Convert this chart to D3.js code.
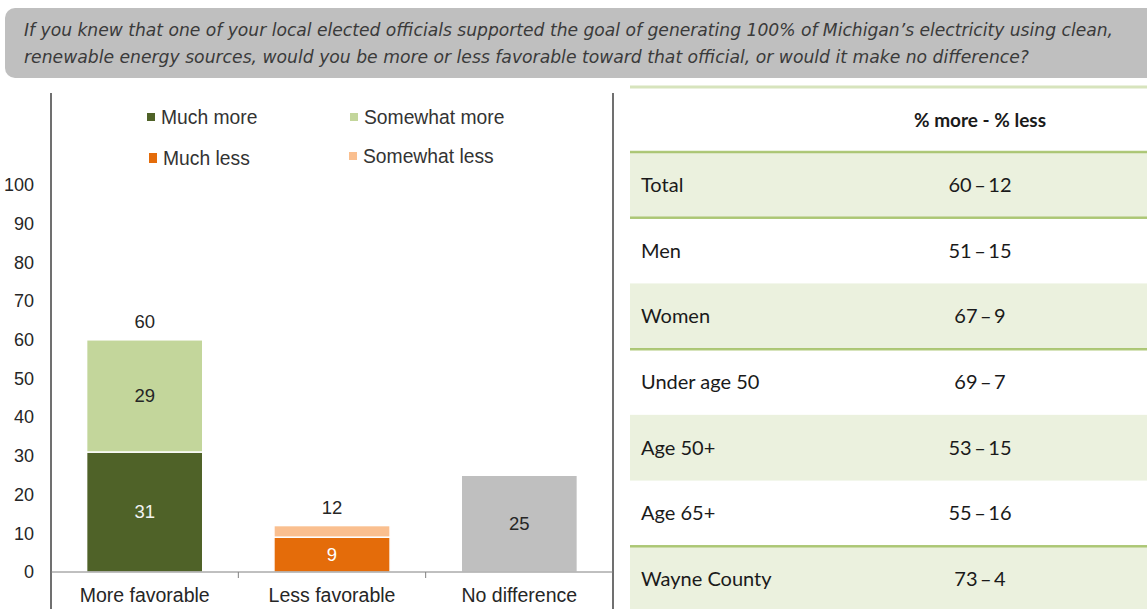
<!DOCTYPE html>
<html>
<head>
<meta charset="utf-8">
<script src="https://cdn.jsdelivr.net/npm/d3@7"></script>
<style>
  body { margin: 0; background: #fff; }
  svg { display: block; }
</style>
</head>
<body>
<div id="chart"></div>
<script>
    // question text (two lines, as in the slide)
    const titleLines = [
      "If you knew that one of your local elected officials supported the goal of generating 100%  of Michigan\u2019s electricity  using clean,",
      "renewable energy sources, would you be more or less favorable toward that official,  or would it make no difference?"
    ];

    // bar chart data
    const categories = ["More favorable", "Less favorable", "No difference"];
    const muchMore = [31, 0, 0];
    const somewhatMore = [29, 0, 0];
    const muchLess = [0, 9, 0];
    const somewhatLess = [0, 3, 0];
    const noDifference = [0, 0, 25];
    const totals = [60, 12, null];
    const yTicks = [0, 10, 20, 30, 40, 50, 60, 70, 80, 90, 100];

    // table data
    const groups = ["Total", "Men", "Women", "Under age 50", "Age 50+", "Age 65+", "Wayne County"];
    const pctMore = [60, 51, 67, 69, 53, 55, 73];
    const pctLess = [12, 15, 9, 7, 15, 16, 4];

    const W = 1147, H = 609;
    const font = "'Liberation Sans', Arial, sans-serif";
    const svg = d3.select("#chart").append("svg")
      .attr("width", W).attr("height", H);

    // ---- title box
    svg.append("rect")
      .attr("x", 5).attr("y", 8).attr("width", 1160).attr("height", 70)
      .attr("rx", 10).attr("fill", "#bfbfbf");
    svg.selectAll(".tline").data(titleLines).enter().append("text")
      .attr("class", "tline")
      .attr("x", 24).attr("y", (d, i) => 36 + i * 27)
      .attr("textLength", (d, i) => i === 0 ? 1089 : 1005)
      .attr("lengthAdjust", "spacingAndGlyphs")
      .style("font-family", "'Liberation Sans Narrow', 'DejaVu Sans Condensed', sans-serif")
      .style("font-style", "italic")
      .style("font-size", "17px")
      .style("fill", "#3a3a3a")
      .text(d => d);

    // ---- bar chart
    const axisLeft = 51, axisRight = 613, base = 572;
    const x = d3.scaleBand().domain(categories).range([axisLeft, axisRight])
      .paddingInner(0.38).paddingOuter(0.19);
    const y = d3.scaleLinear().domain([0, 100]).range([base, 185]);

    const rows = categories.map((c, i) => ({
      cat: c,
      muchMore: muchMore[i], somewhatMore: somewhatMore[i],
      muchLess: muchLess[i], somewhatLess: somewhatLess[i],
      noDifference: noDifference[i]
    }));
    const keys = ["muchMore", "somewhatMore", "muchLess", "somewhatLess", "noDifference"];
    const colors = {
      muchMore: "#4f6228", somewhatMore: "#c3d69b",
      muchLess: "#e46c0a", somewhatLess: "#fabf8f", noDifference: "#bfbfbf"
    };
    const labelColors = {
      muchMore: "#f2f2f2", somewhatMore: "#262626",
      muchLess: "#ffffff", somewhatLess: "#262626", noDifference: "#262626"
    };
    const stacked = d3.stack().keys(keys)(rows);

    const segs = [];
    stacked.forEach(s => s.forEach(d => {
      const v = d[1] - d[0];
      if (v > 0) segs.push({ key: s.key, cat: d.data.cat, y0: d[0], y1: d[1], v: v });
    }));

    svg.selectAll(".seg").data(segs).enter().append("rect")
      .attr("class", "seg")
      .attr("x", d => x(d.cat))
      .attr("width", x.bandwidth())
      .attr("y", d => y(d.y1))
      .attr("height", d => y(d.y0) - y(d.y1))
      .attr("fill", d => colors[d.key])
      .attr("stroke", "#fff").attr("stroke-width", 1.5);

    // segment labels (skip tiny ones)
    svg.selectAll(".seglab").data(segs.filter(d => d.v >= 5)).enter().append("text")
      .attr("class", "seglab")
      .attr("x", d => x(d.cat) + x.bandwidth() / 2)
      .attr("y", d => y((d.y0 + d.y1) / 2))
      .attr("dy", "0.35em")
      .attr("text-anchor", "middle")
      .style("font-family", font)
      .style("font-size", "18.5px")
      .style("fill", d => labelColors[d.key])
      .text(d => d.v);

    // totals above bars
    svg.selectAll(".tot").data(categories.map((c, i) => ({ cat: c, t: totals[i] })).filter(d => d.t != null))
      .enter().append("text")
      .attr("class", "tot")
      .attr("x", d => x(d.cat) + x.bandwidth() / 2)
      .attr("y", d => y(d.t) - 18)
      .attr("dy", "0.35em")
      .attr("text-anchor", "middle")
      .style("font-family", font)
      .style("font-size", "18.5px")
      .style("fill", "#262626")
      .text(d => d.t);

    // y axis
    const yAxis = svg.append("g")
      .attr("transform", `translate(${axisLeft},0)`)
      .call(d3.axisLeft(y).tickValues(yTicks).tickSize(0).tickPadding(17));
    yAxis.select(".domain").remove();
    yAxis.selectAll("text")
      .style("font-family", font)
      .style("font-size", "18px")
      .style("fill", "#262626");
    svg.append("line")
      .attr("x1", axisLeft).attr("x2", axisLeft).attr("y1", 93).attr("y2", H)
      .attr("stroke", "#404040").attr("stroke-width", 1.5);
    svg.append("line")
      .attr("x1", axisRight).attr("x2", axisRight).attr("y1", 93).attr("y2", H)
      .attr("stroke", "#404040").attr("stroke-width", 1.5);

    // x axis
    const xAxis = svg.append("g")
      .attr("transform", `translate(0,${base})`)
      .call(d3.axisBottom(x).tickSize(0).tickPadding(16));
    xAxis.select(".domain").remove();
    xAxis.selectAll("text")
      .style("font-family", font)
      .style("font-size", "19.5px")
      .style("fill", "#262626");
    svg.append("line")
      .attr("x1", axisLeft).attr("x2", axisRight).attr("y1", base).attr("y2", base)
      .attr("stroke", "#808080").attr("stroke-width", 1);
    const gap = (x.step() - x.bandwidth()) / 2;
    svg.selectAll(".xtick").data(categories.slice(1)).enter().append("line")
      .attr("class", "xtick")
      .attr("x1", d => x(d) - gap)
      .attr("x2", d => x(d) - gap)
      .attr("y1", base).attr("y2", base + 6)
      .attr("stroke", "#808080");

    // legend
    const legend = [
      { key: "muchMore", name: "Much more", x: 147, y: 117, h: 8 },
      { key: "somewhatMore", name: "Somewhat more", x: 350, y: 117, h: 8 },
      { key: "muchLess", name: "Much less", x: 149, y: 158, h: 10 },
      { key: "somewhatLess", name: "Somewhat less", x: 349, y: 156, h: 8 }
    ];
    const lg = svg.selectAll(".lg").data(legend).enter().append("g").attr("class", "lg")
      .attr("transform", d => `translate(${d.x},${d.y})`);
    lg.append("rect").attr("x", 0).attr("y", d => -d.h / 2).attr("width", 8).attr("height", d => d.h)
      .attr("fill", d => colors[d.key]);
    lg.append("text").attr("x", 14).attr("dy", "0.35em")
      .style("font-family", font)
      .style("font-size", "19.3px")
      .style("fill", "#333")
      .text(d => d.name);

    // ---- table
    const tx0 = 630, tx1 = W;
    const rowY = d3.scaleBand().domain(groups).range([152, 612]);
    const shaded = ["Total", "Women", "Age 50+", "Wayne County"];

    svg.selectAll(".rowbg").data(groups.filter(g => shaded.includes(g))).enter().append("rect")
      .attr("class", "rowbg")
      .attr("x", tx0).attr("width", tx1 - tx0)
      .attr("y", d => rowY(d)).attr("height", rowY.bandwidth())
      .attr("fill", "#ebf1de");

    svg.append("line")
      .attr("x1", tx0).attr("x2", tx1).attr("y1", 87).attr("y2", 87)
      .attr("stroke", "#d7e4bd").attr("stroke-width", 3);
    const ruled = ["Total", "Men", "Under age 50", "Wayne County"];
    svg.selectAll(".rule").data(ruled).enter().append("line")
      .attr("class", "rule")
      .attr("x1", tx0).attr("x2", tx1)
      .attr("y1", d => rowY(d)).attr("y2", d => rowY(d))
      .attr("stroke", "#9bbb59").attr("stroke-width", 2.5).attr("stroke-opacity", 0.8);

    svg.append("text")
      .attr("x", 980).attr("y", 120).attr("dy", "0.35em")
      .attr("text-anchor", "middle")
      .style("font-family", "Lato, 'Open Sans', sans-serif")
      .style("font-size", "19px").style("font-weight", "bold")
      .style("fill", "#1a1a1a")
      .text("% more - % less");

    svg.selectAll(".glab").data(groups).enter().append("text")
      .attr("class", "glab")
      .attr("x", 641)
      .attr("y", d => rowY(d) + rowY.bandwidth() / 2)
      .attr("dy", "0.35em")
      .style("font-family", "Lato, 'Open Sans', sans-serif")
      .style("font-size", "20px")
      .style("fill", "#1a1a1a")
      .text(d => d);

    svg.selectAll(".gval").data(groups).enter().append("text")
      .attr("class", "gval")
      .attr("x", 980)
      .attr("y", d => rowY(d) + rowY.bandwidth() / 2)
      .attr("dy", "0.35em")
      .attr("text-anchor", "middle")
      .style("font-family", "Lato, 'Open Sans', sans-serif")
      .style("font-size", "20px")
      .style("fill", "#1a1a1a")
      .text((d, i) => pctMore[i] + "\u2009\u2013\u2009" + pctLess[i]);
</script>
</body>
</html>
